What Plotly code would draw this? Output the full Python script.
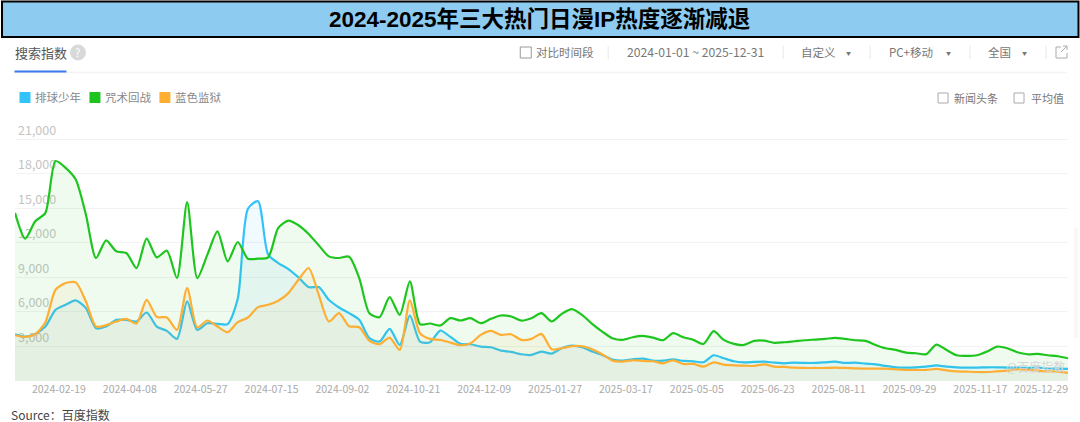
import pandas as pd
import plotly.graph_objects as go

W, H = 1080, 422
L, R, T, B = 14.5, 1068, 105, 381
Y_PER_PX = 21000 / 242

dates = pd.date_range("2024-01-01", "2025-12-29", freq="7D")

series_names = ["排球少年", "咒术回战", "蓝色监狱"]
series_colors = ["#33c3fb", "#1fc51f", "#fdae33"]
series_fills = ["rgba(51,190,255,0.07)", "rgba(31,197,31,0.07)", "rgba(253,174,51,0.07)"]

haikyuu = [4060, 3857, 4089, 4727, 6177, 6612, 6989, 6322, 4582, 4727, 5307, 5307, 5162, 5945, 4727, 4350, 3654, 6902, 4437, 5017,
           4959, 4930, 7134, 14935, 15602, 10962, 10237, 9715, 8990, 8149, 8149, 7047, 6380, 5887, 5307, 3712, 3422, 4524, 3132, 5684,
           3422, 3364, 4379, 3828, 3219, 3190, 2987, 2929, 2639, 2523, 2320, 2262, 2552, 2378, 2842, 3074, 2929, 2552, 2262, 1856,
           1769, 1885, 1943, 1769, 1769, 1885, 1740, 1711, 1624, 2233, 1972, 1711, 1624, 1653, 1682, 1595, 1537, 1595, 1566, 1566,
           1624, 1682, 1566, 1595, 1508, 1450, 1305, 1189, 1160, 1189, 1247, 1363, 1247, 1189, 1160, 1160, 1189, 1189, 1160, 1160,
           1131, 1160, 1102, 1073, 1044]
jujutsu = [14587, 12354, 13862, 14587, 19082, 18500, 17487, 14442, 10672, 12209, 11252, 11107, 9800, 12354, 10730, 11310, 8932, 15515, 8932, 10962,
           12992, 10382, 12064, 10614, 10614, 10730, 13282, 13920, 13514, 12760, 11774, 10817, 10672, 10788, 8932, 5887, 5539, 7279, 5742, 8642,
           4930, 4988, 4814, 5452, 5249, 5452, 5017, 5394, 5684, 5597, 5249, 5452, 5887, 5162, 5829, 6235, 5742, 4959, 4292, 3712,
           3567, 3799, 3915, 3770, 3538, 4147, 3799, 3567, 3219, 4321, 3567, 3219, 3132, 3480, 3509, 3306, 3364, 3451, 3538, 3596,
           3654, 3741, 3654, 3538, 3480, 3132, 2842, 2697, 2465, 2407, 2320, 3161, 2697, 2233, 2175, 2233, 2552, 2987, 2842, 2494,
           2320, 2349, 2233, 2146, 1972]
bluelock = [3973, 3828, 4060, 5104, 7917, 8497, 8555, 6902, 4727, 4843, 5162, 5394, 4988, 7047, 5568, 5510, 4437, 8062, 4640, 5249,
            4727, 4234, 5104, 5510, 6409, 6612, 6960, 7627, 8787, 9802, 7482, 5162, 5887, 4756, 4669, 3480, 3190, 3770, 2697, 6989,
            4147, 3654, 3567, 3335, 3103, 3277, 4002, 4350, 4002, 4060, 3567, 3654, 4089, 2755, 2842, 3016, 3016, 2755, 2320, 1769,
            1682, 1798, 1740, 1711, 1537, 1798, 1479, 1479, 1247, 1624, 1421, 1363, 1334, 1305, 1450, 1247, 1218, 1160, 1131, 1131,
            1131, 1160, 1131, 1102, 1073, 1073, 1073, 1015, 957, 957, 957, 1044, 928, 841, 812, 783, 783, 841, 899, 1015,
            986, 899, 841, 812, 696]
series_values = [haikyuu, jujutsu, bluelock]

y_ticks = [3000, 6000, 9000, 12000, 15000, 18000, 21000]
x_ticks = ["2024-02-19", "2024-04-08", "2024-05-27", "2024-07-15", "2024-09-02", "2024-10-21", "2024-12-09", "2025-01-27",
           "2025-03-17", "2025-05-05", "2025-06-23", "2025-08-11", "2025-09-29", "2025-11-17", "2025-12-29"]

title_text = "2024-2025年三大热门日漫IP热度逐渐减退"
CJK = "Noto Sans CJK SC, Noto Sans, sans-serif"
TITLE_FONT = "Liberation Sans, Noto Sans CJK SC, sans-serif"


def px(x):
    return (x - L) / (R - L)


def py(y):
    return (B - y) / (B - T)


shapes, annos = [], []


def rect(x0, y0, x1, y1, fill="rgba(0,0,0,0)", line="rgba(0,0,0,0)", width=1):
    shapes.append(dict(type="rect", xref="paper", yref="paper", x0=px(x0), x1=px(x1), y0=py(y0), y1=py(y1),
                       fillcolor=fill, line=dict(color=line, width=width), layer="below"))


def seg(x0, y0, x1, y1, color="#e8e8e8", width=1):
    shapes.append(dict(type="line", xref="paper", yref="paper", x0=px(x0), x1=px(x1), y0=py(y0), y1=py(y1),
                       line=dict(color=color, width=width), layer="below"))


def text(x, y, s, size=11.5, color="#777777", anchor="left", family=CJK, bold=False):
    if anchor == "left":
        x -= 1
    annos.append(dict(xref="paper", yref="paper", x=px(x), y=py(y), xanchor=anchor, yanchor="middle", text=f"<b>{s}</b>" if bold else s,
                      showarrow=False, align=anchor, borderpad=0, font=dict(size=size, color=color, family=family)))


# title banner
rect(1.5, 1.5, 1078.5, 37, fill="#8ecbf0", line="#000000", width=2)
text(539.5, 19.5, title_text, size=22.5, color="#000000", anchor="center", family=TITLE_FONT, bold=True)

# tab row
text(14, 52, "搜索指数", size=13, color="#555555")
shapes.append(dict(type="circle", xref="paper", yref="paper", x0=px(70), x1=px(85), y0=py(45), y1=py(60),
                   fillcolor="#d9d9d9", line=dict(color="#d9d9d9", width=1), layer="below"))
text(77.5, 52.5, "?", size=11, color="#ffffff", anchor="center")
seg(14, 72.5, 1067, 72.5, "#f4f4f4", 1.5)
seg(14, 71.5, 66, 71.5, "#3b7bf0", 2)

# toolbar
rect(520, 47, 531, 58, fill="#ffffff", line="#999999")
text(536, 52.5, "对比时间段", size=11.5)
seg(608, 46, 608, 59)
text(627, 52.5, "2024-01-01 ~ 2025-12-31", size=12.2)
seg(783, 46, 783, 59)
text(801, 52.5, "自定义", size=11.5)
text(848, 52.5, "▼", size=5, anchor="center")
seg(870, 46, 870, 59)
text(889, 52.5, "PC+移动", size=11.5)
text(948, 52.5, "▼", size=5, anchor="center")
seg(970, 46, 970, 59)
text(988, 52.5, "全国", size=11.5)
text(1024, 52.5, "▼", size=5, anchor="center")
seg(1046, 46, 1046, 59)

# external-link icon
ICON = "#aaaaaa"
seg(1056, 47, 1061, 47, ICON)
seg(1056, 47, 1056, 58, ICON)
seg(1056, 58, 1067, 58, ICON)
seg(1067, 53, 1067, 58, ICON)
seg(1061, 52, 1067, 46, ICON)
seg(1063, 46, 1067, 46, ICON)
seg(1067, 46, 1067, 50, ICON)

# legend
for sx, name, color in zip([19, 89, 159], series_names, series_colors):
    rect(sx, 92, sx + 11, 103, fill=color)
    text(sx + 16, 97, name, size=11.5, color="#888888")

# right-hand options
rect(938, 93, 948, 103, fill="#ffffff", line="#aaaaaa")
text(954, 98, "新闻头条", size=11)
rect(1014, 93, 1024, 103, fill="#ffffff", line="#aaaaaa")
text(1031, 98, "平均值", size=11)

# faint strip at the right edge
rect(1074, 228, 1078, 338, fill="#f8f8f8")

# watermark and source
text(1006, 366, "@百度指数", size=12, color="#d4d4d4")
text(10, 414, "Source：百度指数", size=12, color="#444444")

fig = go.Figure()
for name, vals, color, fill in zip(series_names, series_values, series_colors, series_fills):
    fig.add_trace(go.Scatter(x=dates, y=vals, name=name, mode="lines", showlegend=False,
                             line=dict(color=color, width=2.2, shape="spline", smoothing=0.7),
                             fill="tozeroy", fillcolor=fill))

fig.update_layout(
    width=W, height=H, autosize=False,
    margin=dict(l=L, r=W - R, t=T, b=H - B, pad=0),
    paper_bgcolor="#ffffff", plot_bgcolor="#ffffff",
    font=dict(family=CJK), shapes=shapes, annotations=annos,
    xaxis=dict(type="date", range=["2024-01-01", "2025-12-29"], tickvals=x_ticks, ticktext=x_ticks,
               ticklabelposition="outside left", showgrid=False, zeroline=False, showline=False, ticks="",
               tickangle=0, tickfont=dict(size=10.5, color="#aaaaaa"), layer="below traces"),
    yaxis=dict(range=[0, (B - T) * Y_PER_PX], tickvals=y_ticks, tickformat=",", ticklabelposition="inside top",
               showgrid=True, gridcolor="#f3f3f3", gridwidth=1, zeroline=False, showline=False, ticks="",
               tickfont=dict(size=12.5, color="#c4c4c4"), layer="below traces"),
)

fig.write_html("out.html", config=dict(displayModeBar=False),
               post_script="document.body.style.margin='0';document.documentElement.style.overflow='hidden';")
